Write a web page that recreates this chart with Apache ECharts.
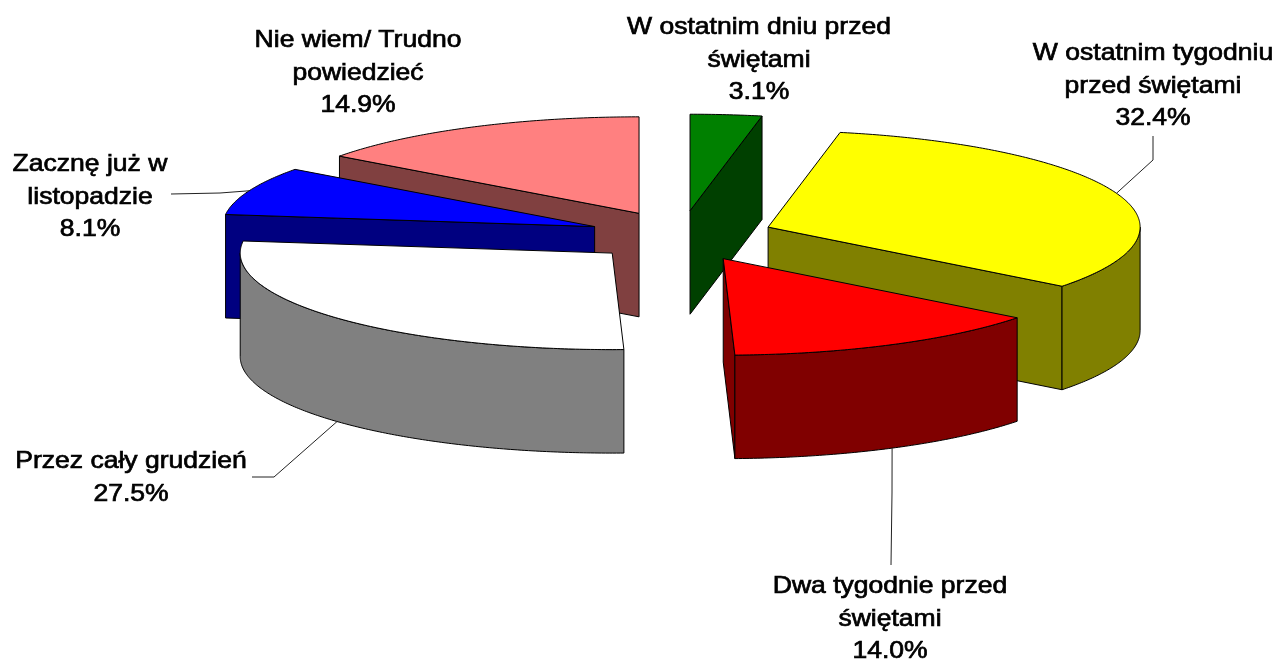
<!DOCTYPE html>
<html>
<head>
<meta charset="utf-8">
<style>
  html, body { margin: 0; padding: 0; background: #fff; }
  #main { width: 1278px; height: 659px; }
</style>
<script src="https://cdn.jsdelivr.net/npm/echarts@6/dist/echarts.min.js"></script>
</head>
<body>
<div id="main"></div>
<script>
// wartosci w kolejnosci od godziny 12, zgodnie z ruchem wskazowek
var categories = [
  'W ostatnim dniu przed\nświętami',
  'W ostatnim tygodniu\nprzed świętami',
  'Dwa tygodnie przed\nświętami',
  'Przez cały grudzień',
  'Zacznę już w\nlistopadzie',
  'Nie wiem/ Trudno\npowiedzieć'
];
var shares = [3.1, 32.4, 14.0, 27.5, 8.1, 14.9];

var topColors = ['#008000', '#ffff00', '#ff0000', '#ffffff', '#0000ff', '#ff8080'];
var sideColors = ['#004000', '#808000', '#800000', '#808080', '#000080', '#804040'];

// kolejnosc malowania: od tylu do przodu
var paintOrder = [5, 4, 0, 1, 3, 2];

// uklad "3D"
var pie = { cx: 681, cy: 236, rx: 372, ry: 96.5, depth: 103.5, explodeX: 93, explodeY: 25.4 };

var labelPos = [[759, 26], [1153, 52], [890, 585], [131, 460], [90, 163], [358, 39]];
var leaderRest = [
  null,
  [[1153, 160], [1153, 136]],
  [[892, 493], [891, 565]],
  [[274, 477], [252, 477]],
  [[220, 193], [171, 194]],
  null
];

var starts = [];
var sum = 0;
for (var i = 0; i < shares.length; i++) {
  starts.push(sum);
  sum += shares[i];
}

function toRad(pct) {
  return pct / sum * Math.PI * 2;
}

function arcPoints(c, t0, t1, dy) {
  var pts = [];
  var n = Math.max(2, Math.ceil((t1 - t0) / 0.01));
  for (var k = 0; k <= n; k++) {
    var t = t0 + (t1 - t0) * k / n;
    pts.push([c.x + pie.rx * Math.sin(t), c.y - pie.ry * Math.cos(t) + dy]);
  }
  return pts;
}

function poly(points, fill) {
  return {
    type: 'polygon',
    shape: { points: points },
    style: { fill: fill, stroke: '#000', lineWidth: 1, lineJoin: 'round' }
  };
}

function renderSlice(params, api) {
  var value = api.value(0);
  var start = api.value(1);
  var idx = api.value(2);
  var t0 = toRad(start);
  var t1 = toRad(start + value);
  var mid = (t0 + t1) / 2;
  var c = {
    x: pie.cx + pie.explodeX * Math.sin(mid),
    y: pie.cy - pie.explodeY * Math.cos(mid)
  };
  var side = sideColors[idx];
  var children = [];

  // sciana prosta od strony poczatku / konca wycinka
  function radial(t) {
    var p = arcPoints(c, t, t, 0)[0];
    return poly([[c.x, c.y], p, [p[0], p[1] + pie.depth], [c.x, c.y + pie.depth]], side);
  }
  if (Math.sin(t0) < 0) children.push(radial(t0));
  if (Math.sin(t1) > 0.001) children.push(radial(t1));

  // sciana zewnetrzna, tylko dolna polowa elipsy
  var a = Math.max(t0, Math.PI / 2);
  var b = Math.min(t1, Math.PI * 1.5);
  if (b > a) {
    var wall = arcPoints(c, a, b, 0).concat(arcPoints(c, a, b, pie.depth).reverse());
    children.push(poly(wall, side));
  }

  // wierzch
  children.push(poly([[c.x, c.y]].concat(arcPoints(c, t0, t1, 0)), topColors[idx]));

  // linia do etykiety
  if (leaderRest[idx]) {
    var edge = arcPoints(c, mid, mid, Math.cos(mid) < 0 ? pie.depth : 0)[0];
    children.push({
      type: 'polyline',
      shape: { points: [edge].concat(leaderRest[idx]) },
      style: { fill: null, stroke: '#222', lineWidth: 1 }
    });
  }

  // tekst w oryginale jest szerszy niz Arial, stad scaleX
  children.push({
    type: 'text',
    z2: 10,
    x: labelPos[idx][0],
    y: labelPos[idx][1] - 14.5,
    scaleX: 1.105,
    style: {
      text: categories[idx] + '\n' + value.toFixed(1) + '%',
      x: 0,
      y: 0,
      align: 'center',
      verticalAlign: 'top',
      lineHeight: 32.5,
      fill: '#000',
      stroke: '#000',
      lineWidth: 0.7,
      font: '24px "Liberation Sans", Arial, sans-serif'
    }
  });

  return { type: 'group', children: children };
}

var chart = echarts.init(document.getElementById('main'), null, { renderer: 'canvas' });
chart.setOption({
  backgroundColor: '#fff',
  animation: false,
  series: [{
    type: 'custom',
    coordinateSystem: 'none',
    renderItem: renderSlice,
    data: paintOrder.map(function (i) {
      return [shares[i], starts[i], i];
    })
  }]
});
</script>
</body>
</html>
